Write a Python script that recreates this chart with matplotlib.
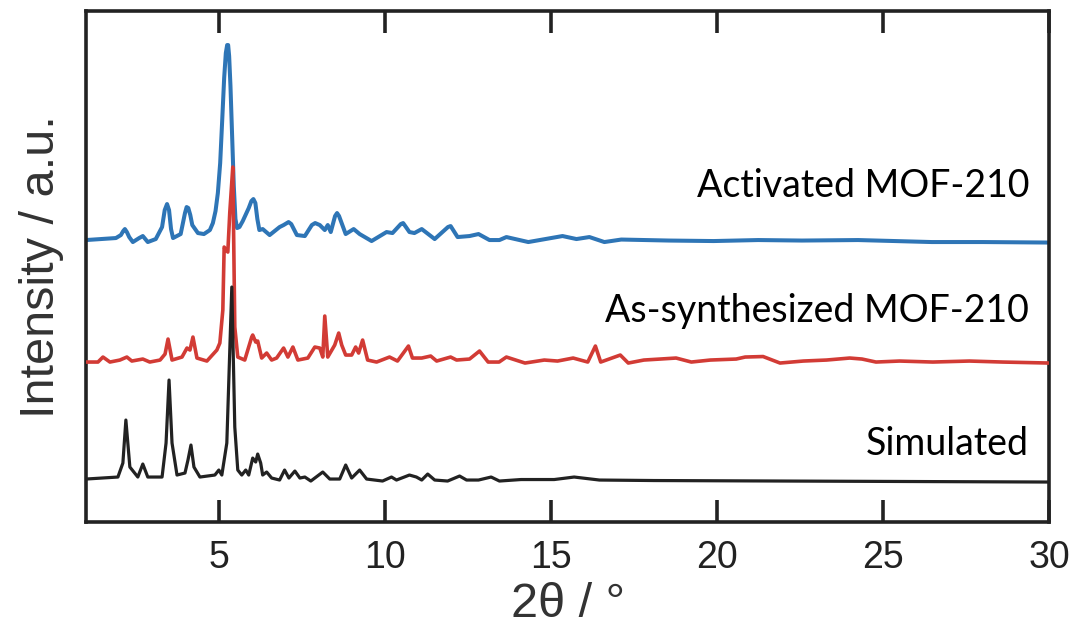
import numpy as np
import matplotlib.pyplot as plt

# 2theta (deg) and intensity (a.u., above each trace's own baseline)
act_x = [1.0, 1.9, 2.05, 2.12, 2.17, 2.23, 2.3, 2.41, 2.6, 2.71, 2.86, 3.1, 3.29, 3.37, 3.44, 3.5, 3.56,
         3.62, 3.85, 3.98, 4.03, 4.08, 4.14, 4.2, 4.37, 4.55, 4.73, 4.82, 4.9, 4.97, 5.04, 5.1, 5.16,
         5.21, 5.25, 5.28, 5.31, 5.35, 5.4, 5.45, 5.5, 5.55, 5.62, 5.72, 5.9, 5.98, 6.04, 6.1, 6.16,
         6.22, 6.32, 6.53, 6.83, 6.95, 7.1, 7.18, 7.35, 7.59, 7.8, 7.9, 8.04, 8.19, 8.28, 8.37, 8.5,
         8.56, 8.62, 8.82, 9.06, 9.24, 9.6, 10.05, 10.23, 10.48, 10.55, 10.74, 10.89, 11.11, 11.5,
         11.9, 11.98, 12.19, 12.55, 12.82, 13.15, 13.45, 13.66, 14.32, 15.35, 15.77, 16.16, 16.61,
         17.12, 18.56, 19.9, 21.24, 22.56, 24.25, 26.47, 28.0, 30.0]
act_y = [1, 3, 6, 10, 12, 9, 4, -1, 3, 5, -1, 2, 14, 31, 37, 31, 12,
         3, 7, 28, 34, 33, 26, 16, 8, 7, 11, 18, 30, 48, 78, 120, 163,
         188, 196, 196, 185, 155, 105, 55, 22, 13, 14, 20, 33, 40, 42, 38, 22,
         11, 12, 6, 14, 16, 19, 17, 6, 5, 16, 18, 16, 11, 16, 9, 25,
         28, 25, 7, 12, 7, 0, 9, 8, 17, 18, 9, 8, 12, 2,
         14, 15, 4, 5, 7, 1, 1, 4, -1, 5, 2, 4, -1,
         1.5, 0.5, 0, 1, 0.5, 1, -1, -1, -1.5]

syn_x = [1.0, 1.36, 1.51, 1.72, 2.02, 2.23, 2.38, 2.71, 2.92, 3.23, 3.38, 3.47, 3.59, 3.89, 4.04, 4.13,
         4.22, 4.34, 4.64, 4.94, 5.03, 5.12, 5.16, 5.22, 5.27, 5.33, 5.42, 5.48, 5.57, 5.78, 5.99, 6.02,
         6.11, 6.17, 6.29, 6.44, 6.59, 6.74, 6.95, 7.08, 7.23, 7.38, 7.68, 7.89, 8.04, 8.13, 8.19, 8.28,
         8.49, 8.61, 8.7, 8.82, 9.0, 9.12, 9.21, 9.33, 9.48, 9.75, 10.14, 10.38, 10.71, 10.83, 11.11,
         11.38, 11.56, 11.98, 12.16, 12.55, 12.85, 13.11, 13.44, 13.66, 14.22, 14.8, 15.2, 15.67,
         16.11, 16.34, 16.5, 17.09, 17.33, 17.8, 18.29, 18.77, 19.23, 19.8, 20.58, 20.85, 21.39, 21.9,
         22.6, 23.3, 24.0, 24.37, 24.79, 25.5, 26.5, 27.6, 28.6, 30.0]
syn_y = [0, 0, 5, 0, 2, 5, 1, 3, 0, 2, 8, 23, 2, 5, 14, 12,
         25, 4, 1, 12, 19, 52, 115, 112, 110, 150, 195, 35, 5, 2, 25, 27,
         20, 21, 4, 9, 2, 4, 14, 5, 15, 2, 4, 15, 14, 5, 46, 5,
         17, 29, 17, 7, 7, 15, 9, 22, 2, 0, 5, 1, 16, 4, 4,
         6, 1, 5, 2, 3, 11, 0, 0, 5, -1, 2, 1, 4,
         0, 16, 0, 7, -1, 2, 3, 4, 0, 2, 3, 5, 5.5, -1,
         1, 2, 4, 3, 0, 1, 0, 1, 0, -1]

sim_x = [1.0, 1.96, 2.11, 2.2, 2.32, 2.56, 2.71, 2.86, 3.29, 3.41, 3.5, 3.59, 3.74, 3.98, 4.07, 4.16,
         4.25, 4.43, 4.88, 5.0, 5.09, 5.24, 5.39, 5.48, 5.57, 5.69, 5.81, 5.9, 6.02, 6.11, 6.17, 6.26,
         6.32, 6.44, 6.59, 6.83, 6.98, 7.11, 7.29, 7.44, 7.59, 7.77, 8.13, 8.34, 8.64, 8.82, 9.0, 9.24,
         9.45, 9.93, 10.2, 10.35, 10.74, 10.95, 11.11, 11.29, 11.5, 11.89, 12.25, 12.46, 12.82, 13.2,
         13.45, 14.1, 15.1, 15.7, 16.46, 18.1, 22.0, 26.0, 30.0]
sim_y = [2, 4, 18, 61, 14, 4, 17, 4, 4, 38, 101, 38, 6, 8, 21, 36,
         14, 4, 6, 11, 6, 38, 194, 54, 11, 6, 11, 6, 23, 19, 27, 18,
         6, 9, 3, 1, 11, 3, 10, 3, 4, 0, 9, 2, 2, 16, 3, 11,
         2, 0, 4, 1, 6, 4, 1, 7, 1, 0, 5, 1, 1, 4,
         0, 1.5, 1.5, 4, 1, 0.5, 0, -0.5, -1]

offsets = [281, 160, 41]          # activated, as-synthesized, simulated
labels = ['Activated MOF-210', 'As-synthesized MOF-210', 'Simulated']
label_y = [325, 200, 67]
colors = ['#2e75b6', '#d23b35', '#222222']
widths = [2.9, 2.6, 2.3]

fig = plt.figure(figsize=(10.74, 6.32), dpi=100)
ax = fig.add_axes([0.0801, 0.174, 0.8966, 0.8085])

series = [(act_x, act_y), (syn_x, syn_y), (sim_x, sim_y)]
for i, (xs, ys) in enumerate(series):
    ax.plot(xs, np.array(ys) + offsets[i], color=colors[i], lw=widths[i], zorder=2 + i,
            solid_joinstyle='round', solid_capstyle='round')
    ax.text(29.4, label_y[i], labels[i], ha='right', va='baseline',
            fontsize=27, family='Lato', color='black')

ax.set_xlim(1, 30)
ax.set_ylim(0, 511)
ax.set_xticks([5, 10, 15, 20, 25, 30])
ax.set_yticks([])
ax.tick_params(axis='x', direction='in', length=16, width=2.6, top=True, pad=13,
               labelsize=27, labelcolor='#222222', color='#222222')
for lab in ax.get_xticklabels():
    lab.set_family('Liberation Sans')
for sp in ax.spines.values():
    sp.set_linewidth(2.6)
    sp.set_color('#222222')

ax.set_xlabel('2θ / °', fontsize=35, family='Liberation Sans', color='#333333', labelpad=4)
ax.set_ylabel('Intensity / a.u.', fontsize=35, family='Liberation Sans', color='#333333', labelpad=16)

fig.savefig('out.png', dpi=100)
